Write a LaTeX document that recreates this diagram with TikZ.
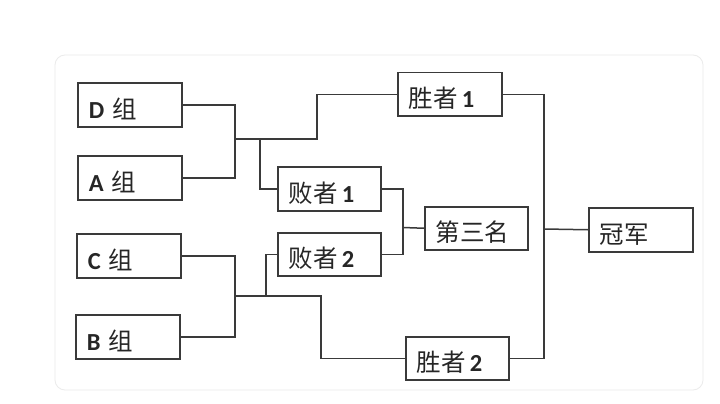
\documentclass[tikz,border=0pt]{standalone}
\usepackage{fontspec}
\setmainfont{Carlito}
\newfontfamily\cjk{Noto Sans CJK SC}
\definecolor{linec}{HTML}{3A3A3A}
\definecolor{txtc}{HTML}{262626}
\definecolor{framec}{HTML}{EBEBEB}
\begin{document}
\begin{tikzpicture}[x=1pt,y=-1pt,
  bx/.style={draw=linec, line width=1.5pt, anchor=north west, inner xsep=11pt, inner ysep=0pt,
    align=left, text height=28pt, text depth=1.5pt, text=txtc, font=\fontsize{24.5}{26}\selectfont},
  conn/.style={draw=linec, line width=1.5pt}]
\useasboundingbox (0,0) rectangle (720,404);
\fill[white] (0,0) rectangle (720,404);
\draw[framec, line width=0.8pt, rounded corners=10pt] (55,55) rectangle (703,390);
% boxes
\node[bx, text width=82pt, minimum height=44pt] (D) at (77,82) {\textbf{D} {\cjk 组}};
\node[bx, text width=82pt, minimum height=44pt] (A) at (77,155) {\textbf{A} {\cjk 组}};
\node[bx, text width=82pt, minimum height=44pt] (C) at (76,233) {\textbf{C} {\cjk 组}};
\node[bx, text width=82pt, minimum height=44pt] (B) at (75,314) {\textbf{B} {\cjk 组}};
\node[bx, text width=81pt, minimum height=44pt] (L1) at (277,166) {{\cjk 败者}\,\textbf{1}};
\node[bx, text width=81pt, minimum height=43pt] (L2) at (277,232) {{\cjk 败者}\,\textbf{2}};
\node[bx, text width=82pt, minimum height=43pt] (W1) at (397,72) {{\cjk 胜者}\,\textbf{1}};
\node[bx, text width=81pt, minimum height=43pt] (W2) at (405,336) {{\cjk 胜者}\,\textbf{2}};
\node[bx, text width=81pt, minimum height=43pt] (T) at (424,206) {{\cjk 第三名}};
\node[bx, text width=82pt, minimum height=44pt] (CH) at (588,207) {{\cjk 冠军}};
% junctions
\coordinate (j1) at (235,139);
\coordinate (k1) at (317,139);
\coordinate (b1) at (260,139);
\coordinate (j2) at (235,296);
\coordinate (k2) at (321,296);
\coordinate (b2) at (266,296);
\coordinate (j3) at (403,227.5);
\coordinate (j4) at (544,229);
% connectors
\draw[conn] (D.east) -| (j1) |- (A.east);
\draw[conn] (j1) -- (k1) |- (W1.west);
\draw[conn] (b1) |- (L1.west);
\draw[conn] (C.east) -| (j2) |- (B.east);
\draw[conn] (j2) -- (k2) |- (W2.west);
\draw[conn] (b2) |- (L2.west);
\draw[conn] (L1.east) -| (j3) |- (L2.east);
\draw[conn] (j3) -- (T.west);
\draw[conn] (W1.east) -| (j4) |- (W2.east);
\draw[conn] (j4) -- (CH.west);
\end{tikzpicture}
\end{document}
